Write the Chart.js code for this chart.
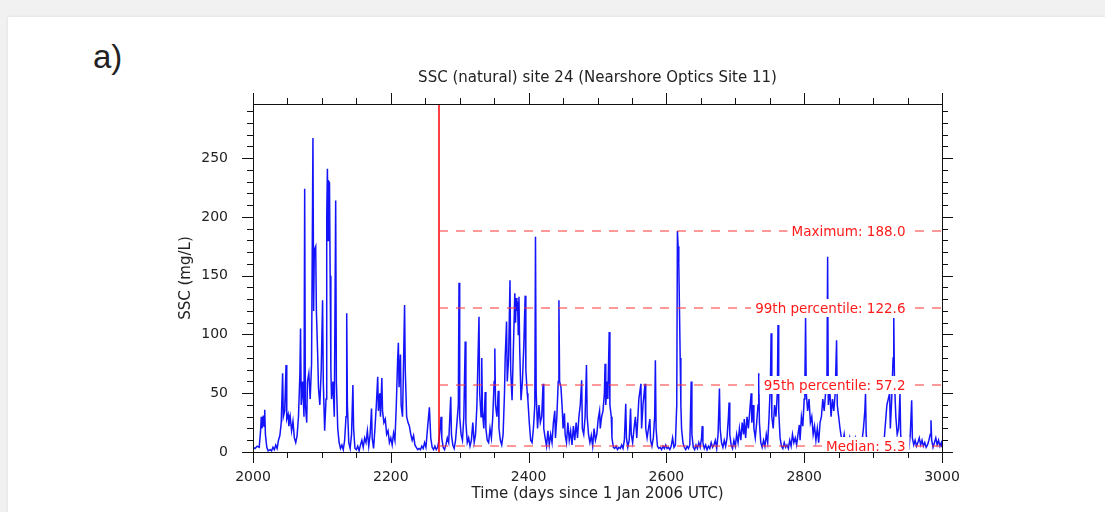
<!DOCTYPE html>
<html>
<head>
<meta charset="utf-8">
<script src="https://cdn.jsdelivr.net/npm/chart.js@4.4.1/dist/chart.umd.min.js"></script>
<style>
  html, body { margin: 0; padding: 0; width: 1105px; height: 512px; overflow: hidden; background: #f1f1f1; }
  #card { position: absolute; left: 8px; top: 17px; right: 0; bottom: 0; background: #fff; box-shadow: 0 0 4px rgba(0,0,0,0.08); }
  #tag { position: absolute; left: 93px; top: 38px; font: 33px "Liberation Sans", Arial, sans-serif; color: #222; }
  #wrap { position: absolute; left: 0; top: 0; width: 1105px; height: 512px; }
</style>
</head>
<body>
<div id="card"></div>
<div id="tag">a)</div>
<div id="wrap"><canvas id="sscChart" width="1105" height="512"></canvas></div>
<script>
// SSC time series, [day since 1 Jan 2006, SSC mg/L]
const sscSeries = [
  [2000,4],[2003,3],[2006,5],[2009,4],[2011,18],[2012,30],[2013,20],[2014,24],[2015,31],[2016,22],[2017,36],[2018,15],
  [2020,4],[2022,1],[2025,2],[2027,1],[2029,4],[2031,2],[2033,6],[2035,3],[2037,10],[2039,14],[2041,25],[2043,67],
  [2044,30],[2046,35],[2048,74],[2049,28],[2051,32],[2052,22],[2054,30],[2056,18],[2058,26],[2060,12],[2062,8],[2064,14],
  [2066,30],[2068,65],[2069,105],[2070,40],[2072,60],[2074,30],[2075,224],[2076,40],[2078,25],[2079,60],[2081,67],[2083,45],
  [2085,75],[2087,267],[2088,120],[2089,172],[2091,175],[2092,120],[2094,80],[2095,55],[2097,40],[2099,70],[2101,129],[2102,60],
  [2104,18],[2106,45],[2107,200],[2108,241],[2109,180],[2110,230],[2111,229],[2112,150],[2113,70],[2114,45],[2116,60],[2118,30],
  [2120,214],[2121,60],[2123,20],[2125,8],[2127,3],[2129,6],[2131,2],[2133,10],[2135,30],[2136,118],[2137,40],[2139,8],
  [2141,3],[2143,15],[2145,57],[2146,20],[2148,3],[2150,2],[2152,5],[2154,1],[2156,6],[2158,10],[2160,4],[2162,12],
  [2164,8],[2166,18],[2168,5],[2170,15],[2172,37],[2173,12],[2175,3],[2177,20],[2179,40],[2181,64],[2182,35],[2184,50],
  [2185,30],[2187,63],[2188,35],[2190,25],[2192,28],[2194,15],[2196,18],[2198,8],[2200,12],[2202,6],[2204,16],[2206,10],
  [2208,40],[2210,80],[2211,93],[2212,55],[2214,83],[2215,40],[2217,30],[2218,60],[2220,125],[2221,70],[2223,30],[2225,25],
  [2227,22],[2229,15],[2231,10],[2233,14],[2235,6],[2237,4],[2239,2],[2241,3],[2243,2],[2245,5],[2247,3],[2249,8],
  [2251,4],[2253,18],[2256,38],[2258,12],[2260,4],[2262,2],[2264,5],[2266,2],[2268,4],[2270,10],[2273,30],[2274,12],
  [2276,4],[2278,2],[2280,6],[2282,12],[2284,8],[2287,47],[2288,15],[2290,6],[2292,3],[2294,10],[2296,25],[2298,40],
  [2299,144],[2300,30],[2302,15],[2304,10],[2306,30],[2308,94],[2309,25],[2311,8],[2313,12],[2315,5],[2317,10],[2319,25],
  [2321,8],[2323,15],[2325,40],[2326,65],[2328,115],[2329,50],[2331,30],[2332,80],[2333,35],[2335,20],[2337,51],[2338,20],
  [2340,10],[2342,8],[2344,20],[2346,12],[2348,30],[2350,60],[2351,88],[2352,40],[2354,30],[2356,52],[2357,20],[2359,10],
  [2361,6],[2363,15],[2365,50],[2366,80],[2368,111],[2369,60],[2371,80],[2373,146],[2374,70],[2376,44],[2378,90],[2380,135],
  [2381,110],[2382,131],[2383,120],[2384,128],[2385,100],[2386,132],[2387,90],[2389,44],[2391,60],[2393,90],[2395,133],[2396,70],
  [2398,50],[2399,44],[2401,25],[2403,10],[2405,8],[2407,20],[2409,40],[2410,183],[2411,50],[2413,20],[2415,40],[2417,25],
  [2419,30],[2421,58],[2422,20],[2424,12],[2426,5],[2428,18],[2430,6],[2432,15],[2434,8],[2436,25],[2438,35],[2439,12],
  [2441,30],[2443,60],[2444,129],[2445,60],[2447,55],[2449,35],[2450,20],[2452,33],[2453,15],[2455,8],[2457,25],[2459,10],
  [2461,18],[2463,6],[2465,22],[2467,10],[2469,25],[2471,12],[2473,30],[2475,40],[2477,61],[2478,20],[2480,15],[2482,30],
  [2484,74],[2485,30],[2487,15],[2489,8],[2491,14],[2493,5],[2495,20],[2497,10],[2499,15],[2501,28],[2503,35],[2504,20],
  [2506,30],[2508,35],[2510,50],[2511,75],[2512,40],[2514,60],[2515,45],[2517,102],[2518,40],[2520,30],[2521,12],[2523,4],
  [2525,3],[2527,5],[2529,2],[2531,4],[2533,3],[2535,6],[2537,3],[2539,10],[2541,41],[2542,12],[2544,4],[2546,10],
  [2548,37],[2549,15],[2551,8],[2553,20],[2555,30],[2557,12],[2560,45],[2563,58],[2564,20],[2566,40],[2569,58],[2570,20],
  [2572,12],[2574,20],[2576,28],[2577,10],[2579,5],[2581,12],[2583,30],[2584,78],[2585,20],[2587,5],[2589,3],[2591,4],
  [2593,2],[2595,5],[2597,3],[2599,6],[2601,3],[2603,4],[2605,2],[2607,5],[2609,12],[2611,4],[2613,6],[2615,40],
  [2616,188],[2617,175],[2618,160],[2619,120],[2620,80],[2621,40],[2622,20],[2624,8],[2626,4],[2628,2],[2630,5],[2632,3],
  [2634,6],[2636,60],[2637,15],[2639,4],[2641,2],[2643,6],[2645,3],[2647,8],[2649,4],[2651,12],[2652,22],[2653,8],
  [2655,3],[2657,6],[2659,2],[2661,5],[2663,3],[2665,8],[2667,4],[2669,6],[2671,10],[2673,3],[2675,15],[2677,54],
  [2678,20],[2680,8],[2682,4],[2684,10],[2686,5],[2688,12],[2690,30],[2691,42],[2692,15],[2694,6],[2696,3],[2698,10],
  [2700,5],[2702,15],[2704,8],[2706,20],[2708,10],[2710,25],[2712,15],[2713,28],[2715,12],[2717,30],[2719,20],[2721,35],
  [2723,50],[2724,25],[2726,40],[2727,20],[2729,12],[2731,25],[2733,40],[2734,67],[2735,25],[2737,8],[2739,4],[2741,10],
  [2743,5],[2745,15],[2747,8],[2749,30],[2751,60],[2752,101],[2753,30],[2755,20],[2757,40],[2759,30],[2761,50],[2762,108],
  [2763,35],[2765,12],[2767,5],[2769,3],[2771,8],[2773,4],[2775,6],[2777,3],[2779,10],[2781,5],[2783,15],[2785,8],
  [2787,12],[2789,6],[2791,15],[2793,23],[2794,10],[2796,30],[2798,22],[2800,45],[2801,60],[2802,114],[2803,50],[2805,35],
  [2807,45],[2809,25],[2811,30],[2813,15],[2815,22],[2817,10],[2819,20],[2821,8],[2823,25],[2825,30],[2827,45],[2829,35],
  [2831,50],[2833,60],[2834,166],[2835,40],[2837,55],[2839,30],[2841,45],[2843,35],[2845,50],[2847,95],[2848,40],[2850,30],
  [2852,20],[2854,12],[2856,8],[2858,15],[2860,5],[2862,10],[2864,6],[2866,12],[2868,4],[2870,10],[2872,8],[2874,12],
  [2876,5],[2878,8],[2880,4],[2882,6],[2884,10],[2886,20],[2888,35],[2889,50],[2890,15],[2892,5],[2894,3],[2896,2],
  [2898,4],[2900,2],[2902,3],[2904,2],[2906,5],[2908,3],[2910,2],[2912,4],[2914,3],[2916,10],[2918,25],[2920,40],
  [2922,45],[2924,50],[2925,20],[2927,45],[2929,80],[2930,114],[2931,60],[2933,30],[2935,15],[2937,20],[2939,50],[2940,15],
  [2942,4],[2944,2],[2946,3],[2948,2],[2950,4],[2952,3],[2954,15],[2956,44],[2957,12],[2959,6],[2961,10],[2963,5],
  [2965,8],[2967,12],[2969,6],[2971,10],[2973,5],[2975,8],[2977,4],[2979,6],[2981,10],[2983,15],[2984,27],[2985,10],
  [2987,4],[2989,8],[2991,12],[2993,6],[2995,10],[2997,5],[2999,8],[3000,4]
];

const xTicks = [2000, 2200, 2400, 2600, 2800, 3000];
const yTicks = [0, 50, 100, 150, 200, 250];

const statNames = ['Maximum', '99th percentile', '95th percentile', 'Median'];
const statValues = [188.0, 122.6, 57.2, 5.3];
const markDay = 2270;      // red vertical marker
const labelDay = 2947;     // right edge of the statistic labels

const chartTitle = 'SSC (natural) site 24 (Nearshore Optics Site 11)';

Chart.defaults.font.family = '"DejaVu Sans", sans-serif';
Chart.defaults.color = '#222';

// frame, outward major/minor ticks, marker line, statistic lines and title
const decorPlugin = {
  id: 'decor',
  afterDatasetsDraw(chart) {
    const { ctx, chartArea: a, scales: { x, y } } = chart;
    ctx.save();
    const mx = Math.round(x.getPixelForValue(markDay));
    ctx.strokeStyle = '#ff0000';
    ctx.lineWidth = 1.5;
    ctx.beginPath();
    ctx.moveTo(mx, a.top);
    ctx.lineTo(mx, a.bottom);
    ctx.stroke();

    ctx.font = '13.5px "DejaVu Sans", sans-serif';
    ctx.textAlign = 'right';
    ctx.textBaseline = 'middle';
    statValues.forEach((v, i) => {
      const py = Math.round(y.getPixelForValue(v));
      ctx.setLineDash([9, 8]);
      ctx.strokeStyle = '#ff3434';
      ctx.lineWidth = 1.2;
      ctx.beginPath();
      ctx.moveTo(mx, py);
      ctx.lineTo(a.right, py);
      ctx.stroke();
      ctx.setLineDash([]);
      const txt = statNames[i] + ': ' + v.toFixed(1);
      const rx = x.getPixelForValue(labelDay);
      const w = ctx.measureText(txt).width;
      ctx.fillStyle = '#fff';
      ctx.fillRect(rx - w - 4, py - 9, w + 8, 18);
      ctx.fillStyle = '#ff1a1a';
      ctx.fillText(txt, rx, py + 1);
    });
    ctx.restore();
  },
  afterDraw(chart) {
    const { ctx, chartArea: a, scales: { x, y } } = chart;
    ctx.save();
    ctx.strokeStyle = '#111';
    ctx.lineWidth = 1;
    ctx.strokeRect(Math.round(a.left) + 0.5, Math.round(a.top) + 0.5,
                   Math.round(a.right - a.left), Math.round(a.bottom - a.top));
    ctx.beginPath();
    for (let d = x.min; d <= x.max; d += 50) {
      const px = Math.round(x.getPixelForValue(d)) + 0.5;
      const len = d % 200 === 0 ? 11 : 6;
      ctx.moveTo(px, a.bottom); ctx.lineTo(px, a.bottom + len);
      ctx.moveTo(px, a.top); ctx.lineTo(px, a.top - len);
    }
    for (let v = 0; v <= y.max; v += 10) {
      const py = Math.round(y.getPixelForValue(v)) + 0.5;
      const len = v % 50 === 0 ? 11 : 6;
      ctx.moveTo(a.left, py); ctx.lineTo(a.left - len, py);
      ctx.moveTo(a.right, py); ctx.lineTo(a.right + len, py);
    }
    ctx.stroke();

    ctx.fillStyle = '#222';
    ctx.font = '15px "DejaVu Sans", sans-serif';
    ctx.textAlign = 'center';
    ctx.textBaseline = 'middle';
    ctx.fillText(chartTitle, (a.left + a.right) / 2, 78);
    ctx.restore();
  }
};

const ctx = document.getElementById('sscChart').getContext('2d');
new Chart(ctx, {
  type: 'line',
  data: {
    datasets: [{
      label: 'SSC',
      data: sscSeries.map(p => ({ x: p[0], y: p[1] })),
      borderColor: 'rgb(20,20,250)',
      borderWidth: 1.5,
      pointRadius: 0,
      tension: 0,
      fill: false
    }]
  },
  options: {
    responsive: false,
    animation: false,
    layout: { padding: { left: 0, top: 104, right: 163, bottom: 0 } },
    plugins: {
      legend: { display: false },
      tooltip: { enabled: false }
    },
    scales: {
      x: {
        type: 'linear',
        min: 2000,
        max: 3000,
        afterBuildTicks: s => { s.ticks = xTicks.map(v => ({ value: v })); },
        afterFit: s => { s.height = 60; },
        grid: { display: false },
        border: { display: false },
        ticks: { padding: 9, maxRotation: 0, font: { size: 14 }, callback: v => String(v) },
        title: {
          display: true,
          text: 'Time (days since 1 Jan 2006 UTC)',
          font: { size: 15 },
          padding: { top: 0, bottom: 9 }
        }
      },
      y: {
        type: 'linear',
        min: 0,
        max: 296,
        afterBuildTicks: s => { s.ticks = yTicks.map(v => ({ value: v })); },
        afterFit: s => { s.width = 253; },
        grid: { display: false },
        border: { display: false },
        ticks: { padding: 17, font: { size: 14 }, callback: v => String(v) },
        title: {
          display: true,
          text: 'SSC (mg/L)',
          font: { size: 15 },
          padding: { top: 177, bottom: 0 }
        }
      }
    }
  },
  plugins: [decorPlugin]
});
</script>
</body>
</html>
